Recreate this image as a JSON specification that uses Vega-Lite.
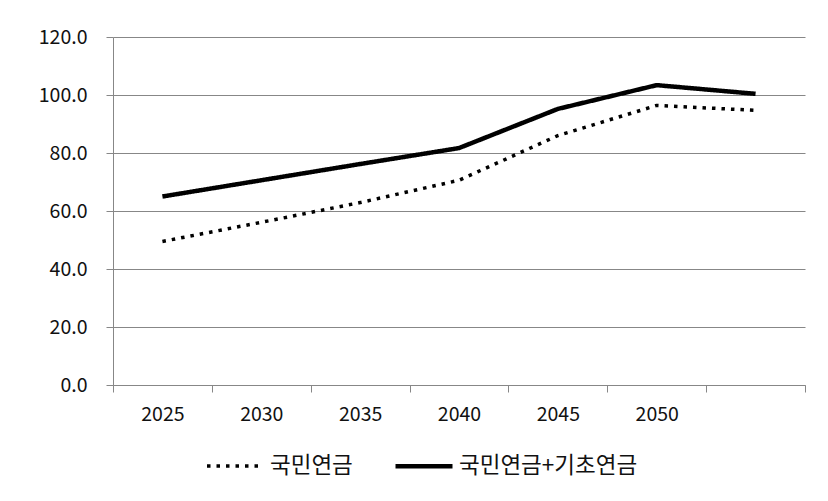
{
  "$schema": "https://vega.github.io/schema/vega-lite/v6.json",
  "autosize": {"type": "none"},
  "padding": {"left": 113, "top": 37, "right": 23, "bottom": 116},
  "width": 692,
  "height": 348,
  "background": "white",
  "config": {
    "view": {"stroke": null},
    "font": "Noto Sans CJK KR"
  },
  "data": {
    "values": [
      {"year": "2025", "series": "국민연금", "value": 49.5},
      {"year": "2030", "series": "국민연금", "value": 56.1},
      {"year": "2035", "series": "국민연금", "value": 62.9},
      {"year": "2040", "series": "국민연금", "value": 70.6},
      {"year": "2045", "series": "국민연금", "value": 86.0},
      {"year": "2050", "series": "국민연금", "value": 96.4},
      {"year": "2055", "series": "국민연금", "value": 94.7},
      {"year": "2025", "series": "국민연금+기초연금", "value": 65.0},
      {"year": "2030", "series": "국민연금+기초연금", "value": 70.6},
      {"year": "2035", "series": "국민연금+기초연금", "value": 76.2},
      {"year": "2040", "series": "국민연금+기초연금", "value": 81.7},
      {"year": "2045", "series": "국민연금+기초연금", "value": 95.2},
      {"year": "2050", "series": "국민연금+기초연금", "value": 103.4},
      {"year": "2055", "series": "국민연금+기초연금", "value": 100.4}
    ]
  },
  "mark": {"type": "line", "color": "black", "strokeJoin": "round"},
  "encoding": {
    "x": {
      "field": "year",
      "type": "ordinal",
      "bandPosition": 0.5,
      "scale": {"type": "band", "paddingInner": 0, "paddingOuter": 0},
      "axis": {
        "title": null,
        "labelAngle": 0,
        "tickBand": "extent",
        "labelExpr": "datum.value == '2055' ? '' : datum.label",
        "domainColor": "#878787",
        "tickColor": "#878787",
        "tickSize": 7,
        "labelPadding": 13,
        "labelFontSize": 19.5,
        "labelColor": "#111111",
        "grid": false
      }
    },
    "y": {
      "field": "value",
      "type": "quantitative",
      "scale": {"domain": [0, 120], "nice": false},
      "axis": {
        "title": null,
        "values": [0, 20, 40, 60, 80, 100, 120],
        "format": ".1f",
        "domainColor": "#878787",
        "tickColor": "#878787",
        "gridColor": "#878787",
        "tickSize": 7,
        "labelPadding": 19,
        "labelFontSize": 19.5,
        "labelColor": "#111111"
      }
    },
    "strokeDash": {
      "field": "series",
      "type": "nominal",
      "scale": {"domain": ["국민연금", "국민연금+기초연금"], "range": [[3.5, 6], [1, 0]]},
      "legend": {
        "title": null,
        "orient": "none",
        "direction": "horizontal",
        "legendX": 92,
        "legendY": 398,
        "symbolType": "stroke",
        "symbolSize": 3249,
        "symbolStrokeColor": "black",
        "labelFontSize": 22.5,
        "labelColor": "#111111",
        "labelOffset": 4,
        "labelLimit": 400,
        "columnPadding": 33
      }
    },
    "strokeWidth": {
      "field": "series",
      "type": "nominal",
      "scale": {"domain": ["국민연금", "국민연금+기초연금"], "range": [3.5, 4.5]},
      "legend": null
    }
  }
}
